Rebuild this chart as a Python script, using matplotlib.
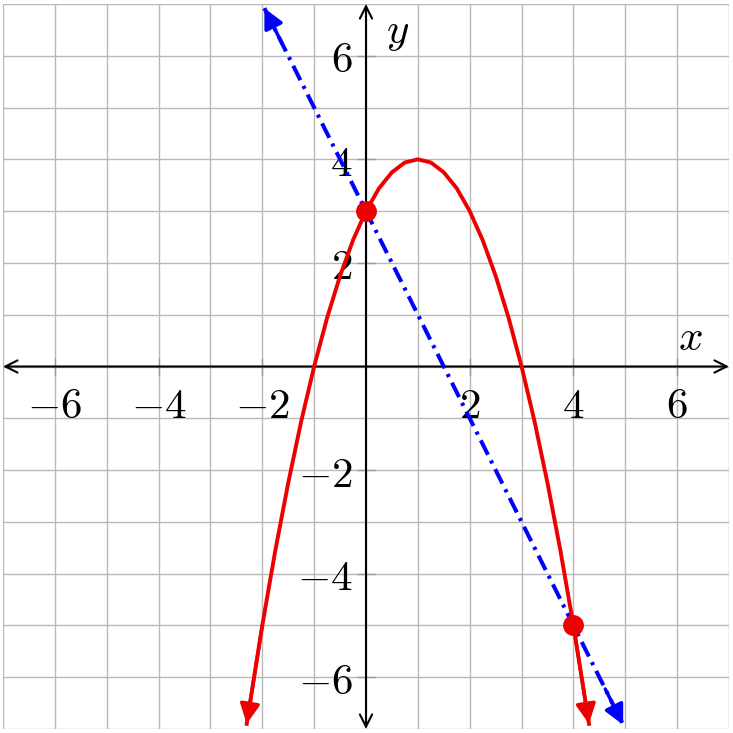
"""
Parabola y = -x^2 + 2x + 3 and the line y = -2x + 3 on a grid, with the
two intersection points marked.
"""
import matplotlib
matplotlib.use("Agg")
import matplotlib.pyplot as plt
from matplotlib.ticker import FixedLocator, FixedFormatter

# values
par_x = [-2.3, -2.0, -1.75, -1.5, -1.25, -1.0, -0.75, -0.5, -0.25, 0, 0.25, 0.5, 0.75, 1,
         1.25, 1.5, 1.75, 2, 2.25, 2.5, 2.75, 3, 3.25, 3.5, 3.75, 4, 4.3]
par_y = [-6.9, -5, -3.56, -2.25, -1.06, 0, 0.94, 1.75, 2.44, 3, 3.44, 3.75, 3.94, 4,
         3.94, 3.75, 3.44, 3, 2.44, 1.75, 0.94, 0, -1.06, -2.25, -3.56, -5, -6.9]
line_x = [-1.96, 4.96]
line_y = [6.92, -6.92]
pts_x = [0, 4]
pts_y = [3, -5]
tick_vals = [-6, -4, -2, 2, 4, 6]
tick_labels = [r"$-6$", r"$-4$", r"$-2$", r"$2$", r"$4$", r"$6$"]
grid_vals = list(range(-7, 8))

plt.rcParams["mathtext.fontset"] = "cm"
RED = "#ee0000"
BLUE = "#0000ff"

fig = plt.figure(figsize=(7.33, 7.33), dpi=100)
ax = fig.add_axes([3 / 733, 4 / 733, 726 / 733, 725 / 733])
ax.set_xlim(-7, 7); ax.set_ylim(-7, 7)

# grid at every integer (drawn by hand so that even and odd lines look alike)
for g in grid_vals:
    ax.axvline(g, color="#b8b8b8", lw=1.0, zorder=0)
    ax.axhline(g, color="#b8b8b8", lw=1.0, zorder=0)

# axes through the origin
for s in ["top", "right", "left", "bottom"]:
    ax.spines[s].set_visible(False)
for s in ["left", "bottom"]:
    ax.spines[s].set_position(("data", 0))
ax.xaxis.set_major_locator(FixedLocator(tick_vals))
ax.xaxis.set_major_formatter(FixedFormatter(tick_labels))
ax.yaxis.set_major_locator(FixedLocator(tick_vals))
ax.yaxis.set_major_formatter(FixedFormatter(tick_labels))
ax.tick_params(which="major", direction="inout", length=13, width=1, color="#999999",
               labelsize=31)
ax.tick_params(axis="x", pad=7)
ax.tick_params(axis="y", pad=3)

ax.annotate("", xy=(7, 0), xytext=(-7, 0),
            arrowprops=dict(arrowstyle="<->", lw=1.5, color="black",
                            shrinkA=0, shrinkB=0, mutation_scale=22))
ax.annotate("", xy=(0, 7), xytext=(0, -7),
            arrowprops=dict(arrowstyle="<->", lw=1.5, color="black",
                            shrinkA=0, shrinkB=0, mutation_scale=22))
ax.text(6.25, 0.56, r"$x$", fontsize=31, ha="center", va="center")
ax.text(0.6, 6.45, r"$y$", fontsize=31, ha="center", va="center")

# the line, dash-dot, arrows at both ends
ax.plot(line_x, line_y, color=BLUE, lw=2.9, ls=(0, (4, 1.6, 0.8, 1.6)), zorder=3)
for i, j in [(0, 1), (1, 0)]:
    ax.annotate("", xy=(line_x[i], line_y[i]),
                xytext=(line_x[i] + 0.05 * (line_x[j] - line_x[i]),
                        line_y[i] + 0.05 * (line_y[j] - line_y[i])),
                arrowprops=dict(arrowstyle="-|>,head_length=0.6,head_width=0.3",
                                lw=2.5, color=BLUE, shrinkA=0, shrinkB=0,
                                mutation_scale=20), zorder=3)

# the parabola, arrows at both ends
ax.plot(par_x, par_y, color=RED, lw=2.8, zorder=4)
for i, j in [(0, 1), (-1, -2)]:
    ax.annotate("", xy=(par_x[i], par_y[i]),
                xytext=(par_x[j], par_y[j]),
                arrowprops=dict(arrowstyle="-|>,head_length=0.6,head_width=0.3",
                                lw=2.5, color=RED, shrinkA=0, shrinkB=0,
                                mutation_scale=20), zorder=4)

ax.plot(pts_x, pts_y, "o", color=RED, ms=14, zorder=5)

fig.savefig("out.png", dpi=100)
